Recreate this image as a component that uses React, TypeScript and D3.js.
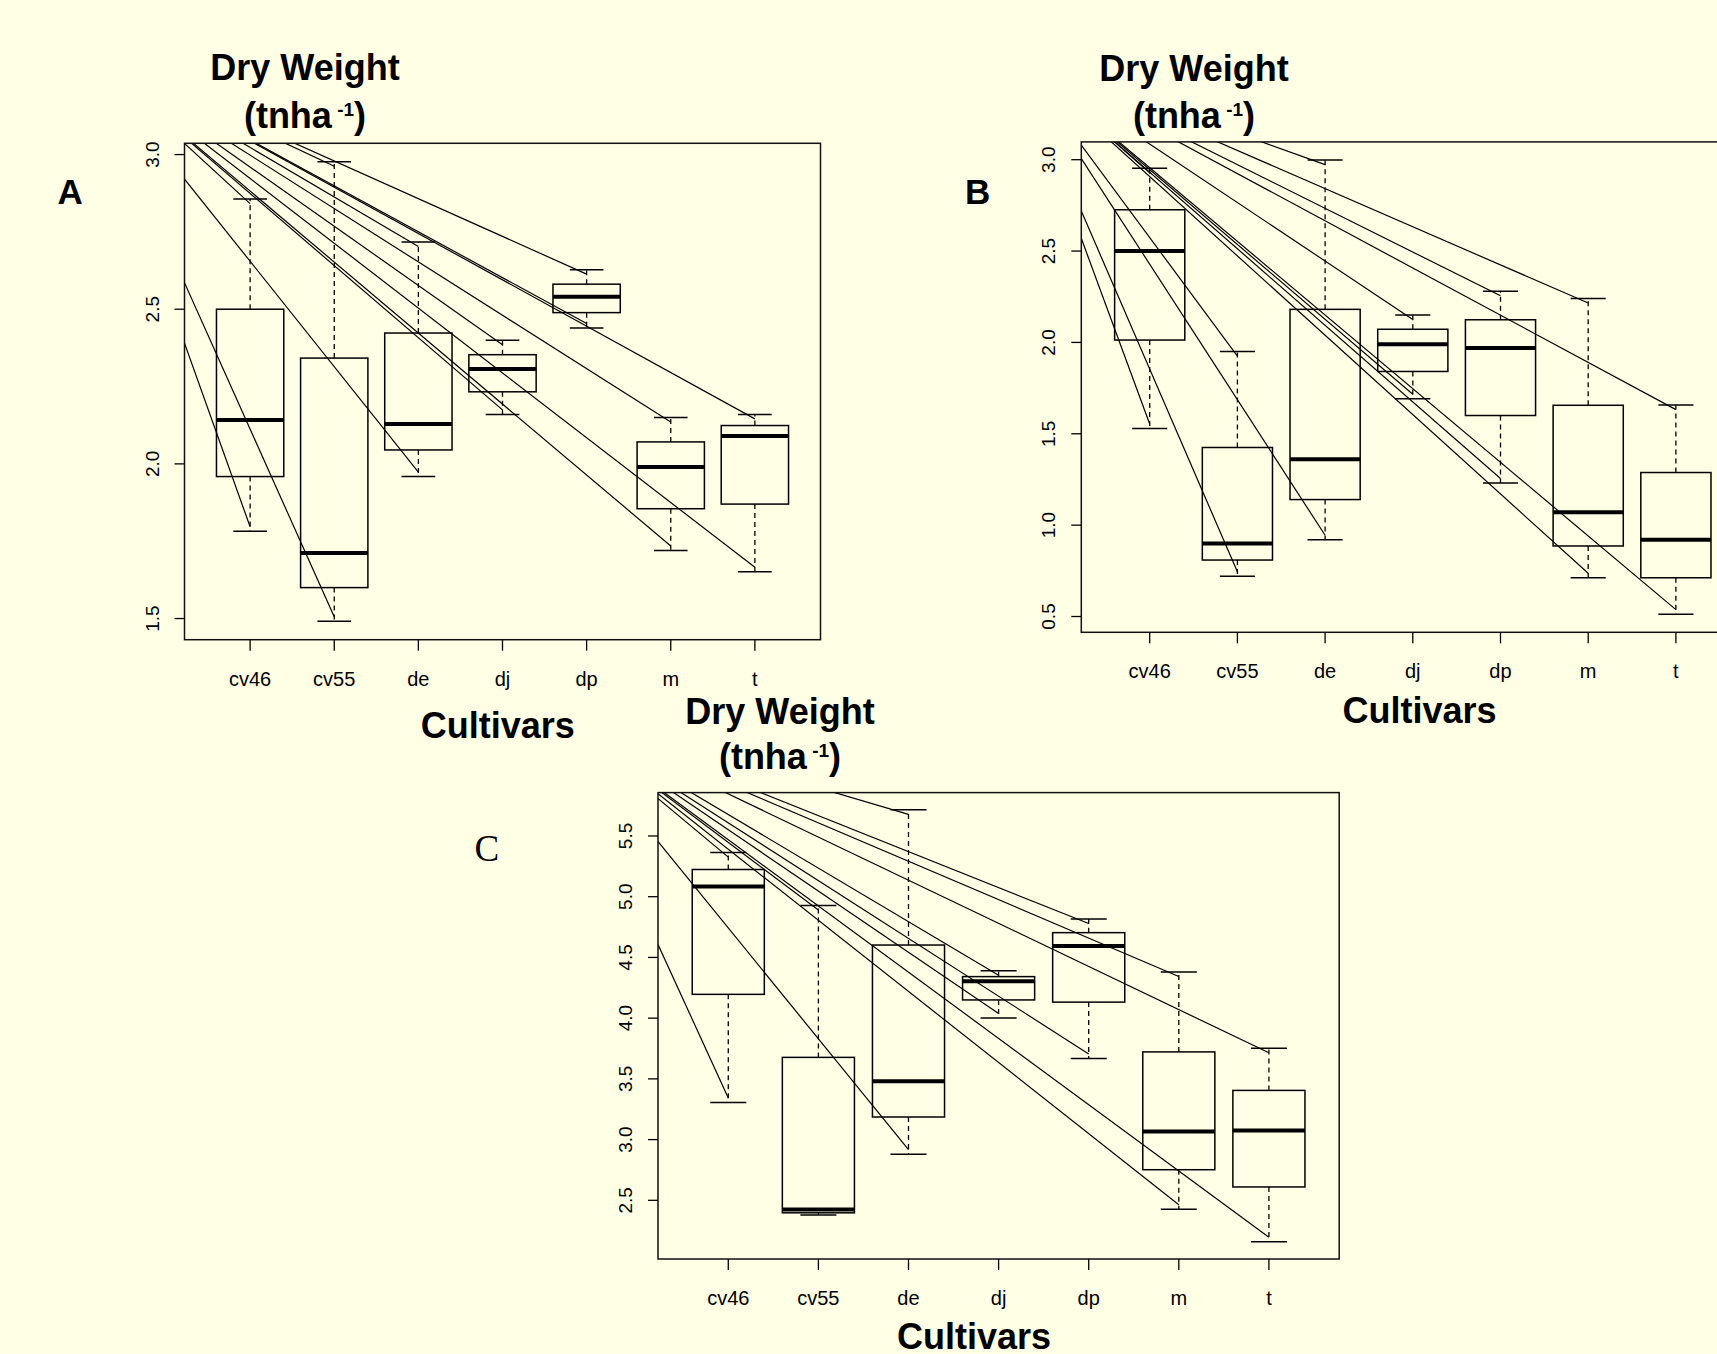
import React from "react";
import * as d3 from "d3";

// ---------- data ----------
const categories = ["cv46", "cv55", "de", "dj", "dp", "m", "t"];

// each row: [lower whisker, Q1, median, Q3, upper whisker]
const statsA = [
  [1.782, 1.959, 2.142, 2.5, 2.856],
  [1.491, 1.6, 1.712, 2.342, 2.977],
  [1.959, 2.045, 2.129, 2.423, 2.717],
  [2.16, 2.233, 2.307, 2.353, 2.4],
  [2.439, 2.489, 2.54, 2.581, 2.628],
  [1.72, 1.855, 1.99, 2.071, 2.15],
  [1.651, 1.87, 2.09, 2.124, 2.16],
];
const statsB = [
  [1.529, 2.013, 2.501, 2.726, 2.953],
  [0.72, 0.809, 0.9, 1.425, 1.95],
  [0.92, 1.14, 1.361, 2.181, 2.998],
  [1.692, 1.841, 1.99, 2.072, 2.15],
  [1.231, 1.6, 1.97, 2.124, 2.28],
  [0.712, 0.886, 1.071, 1.656, 2.24],
  [0.513, 0.712, 0.92, 1.288, 1.657],
];
const statsC = [
  [3.306, 4.196, 5.085, 5.224, 5.363],
  [2.379, 2.397, 2.425, 3.677, 4.927],
  [2.88, 3.186, 3.481, 4.602, 5.715],
  [4.001, 4.15, 4.304, 4.342, 4.39],
  [3.668, 4.132, 4.595, 4.704, 4.816],
  [2.427, 2.752, 3.066, 3.722, 4.38],
  [2.159, 2.61, 3.075, 3.405, 3.752],
];

const yTicksA = [1.5, 2.0, 2.5, 3.0];
const yTicksB = [0.5, 1.0, 1.5, 2.0, 2.5, 3.0];
const yTicksC = [2.5, 3.0, 3.5, 4.0, 4.5, 5.0, 5.5];

// common point (x in category units, y in data units) the straight lines radiate from
const rayOriginA = [-1.04, 3.35];
const rayOriginB = [-0.56, 3.585];
const rayOriginC = [-0.98, 6.55];

// which whisker ends receive a line: [upper, lower] per category
const rayEndsA = [[1, 1], [1, 1], [1, 1], [1, 1], [1, 1], [1, 1], [1, 1]];
const rayEndsB = [[1, 1], [1, 1], [1, 1], [1, 1], [1, 1], [1, 1], [1, 1]];
const rayEndsC = [[1, 1], [1, 0], [1, 1], [1, 1], [1, 1], [1, 1], [1, 1]];

const panelLabels = ["A", "B", "C"];
const titleLine1 = "Dry Weight";
const titleLine2 = "(tnha";
const titleSup = " -1";
const xAxisTitle = "Cultivars";

// ---------- layout ----------
const W = 1717;
const H = 1354;
const BG = "#FFFFE5";
const SANS = "'Liberation Sans', Arial, Helvetica, sans-serif";
const SERIF = "'Liberation Serif', 'Times New Roman', serif";

const layouts = [
  {
    stats: statsA, ticks: yTicksA, origin: rayOriginA, ends: rayEndsA,
    left: 184.5, right: 820.5, top: 143.3, bottom: 639.7,
    titleX: 305, t1: 80, t2: 128, xTitleX: 497.7, xTitleY: 738,
    label: panelLabels[0], labelX: 57.6, labelY: 204.3, labelFont: SANS, labelWeight: 700, labelSize: 35,
  },
  {
    stats: statsB, ticks: yTicksB, origin: rayOriginB, ends: rayEndsB,
    left: 1081.3, right: 1744.3, top: 141.9, bottom: 632.3,
    titleX: 1194, t1: 81, t2: 128, xTitleX: 1419.6, xTitleY: 723,
    label: panelLabels[1], labelX: 965, labelY: 204.3, labelFont: SANS, labelWeight: 700, labelSize: 35,
  },
  {
    stats: statsC, ticks: yTicksC, origin: rayOriginC, ends: rayEndsC,
    left: 658, right: 1339.2, top: 792.6, bottom: 1259,
    titleX: 780, t1: 724, t2: 769, xTitleX: 974, xTitleY: 1349,
    label: panelLabels[2], labelX: 474.6, labelY: 861.4, labelFont: SERIF, labelWeight: 400, labelSize: 37,
  },
];

function Panel({ cfg, idx }: { cfg: any; idx: number }) {
  const n = categories.length;
  const xPad = 0.04 * n;
  const x = d3.scaleLinear().domain([0.5 - xPad, n + 0.5 + xPad]).range([cfg.left, cfg.right]);
  const allVals = cfg.stats.flat();
  const [lo, hi] = d3.extent(allVals) as [number, number];
  const yPad = 0.04 * (hi - lo);
  const y = d3.scaleLinear().domain([lo - yPad, hi + yPad]).range([cfg.bottom, cfg.top]);
  const unit = x(2) - x(1);
  const boxHalf = 0.4 * unit;
  const capHalf = 0.2 * unit;
  const clipId = `clip-${idx}`;
  const ox = x(cfg.origin[0]);
  const oy = y(cfg.origin[1]);
  const gap = 4.5;

  return (
    <g>
      <defs>
        <clipPath id={clipId}>
          <rect x={cfg.left} y={cfg.top} width={cfg.right - cfg.left} height={cfg.bottom - cfg.top} />
        </clipPath>
      </defs>

      {/* radiating lines */}
      <g clipPath={`url(#${clipId})`} stroke="#000" strokeWidth={1.2} fill="none">
        {cfg.stats.map((s: number[], i: number) => {
          const cx = x(i + 1);
          const [up, low] = cfg.ends[i];
          return (
            <g key={i}>
              {up ? <line x1={ox} y1={oy} x2={cx} y2={y(s[4]) + gap} /> : null}
              {low ? <line x1={ox} y1={oy} x2={cx} y2={y(s[0]) - gap} /> : null}
            </g>
          );
        })}
      </g>

      {/* boxplots */}
      {cfg.stats.map((s: number[], i: number) => {
        const cx = x(i + 1);
        return (
          <g key={i} stroke="#000" fill="none">
            <line x1={cx} x2={cx} y1={y(s[3])} y2={y(s[4])} strokeWidth={1.3} strokeDasharray="5,4" />
            <line x1={cx} x2={cx} y1={y(s[1])} y2={y(s[0])} strokeWidth={1.3} strokeDasharray="5,4" />
            <line x1={cx - capHalf} x2={cx + capHalf} y1={y(s[4])} y2={y(s[4])} strokeWidth={1.5} />
            <line x1={cx - capHalf} x2={cx + capHalf} y1={y(s[0])} y2={y(s[0])} strokeWidth={1.5} />
            <rect x={cx - boxHalf} width={2 * boxHalf} y={y(s[3])} height={y(s[1]) - y(s[3])} strokeWidth={1.5} />
            <line x1={cx - boxHalf} x2={cx + boxHalf} y1={y(s[2])} y2={y(s[2])} strokeWidth={4} />
          </g>
        );
      })}

      {/* frame */}
      <rect x={cfg.left} y={cfg.top} width={cfg.right - cfg.left} height={cfg.bottom - cfg.top}
        fill="none" stroke="#111" strokeWidth={1.5} />

      {/* x axis */}
      {categories.map((c, i) => (
        <g key={c}>
          <line x1={x(i + 1)} x2={x(i + 1)} y1={cfg.bottom} y2={cfg.bottom + 11} stroke="#000" strokeWidth={1.3} />
          <text x={x(i + 1)} y={cfg.bottom + 46} textAnchor="middle" fontFamily={SANS} fontSize={20} fill="#000">{c}</text>
        </g>
      ))}

      {/* y axis */}
      {cfg.ticks.map((t: number) => (
        <g key={t}>
          <line x1={cfg.left - 10} x2={cfg.left} y1={y(t)} y2={y(t)} stroke="#000" strokeWidth={1.3} />
          <text transform={`translate(${cfg.left - 26},${y(t)}) rotate(-90)`} textAnchor="middle"
            fontFamily={SANS} fontSize={19} fill="#000">{t.toFixed(1)}</text>
        </g>
      ))}

      {/* titles */}
      <text x={cfg.titleX} y={cfg.t1} textAnchor="middle" fontFamily={SANS} fontWeight={700} fontSize={36} fill="#000">{titleLine1}</text>
      <text x={cfg.titleX} y={cfg.t2} textAnchor="middle" fontFamily={SANS} fontWeight={700} fontSize={36} fill="#000" style={{ whiteSpace: "pre" }}>
        {titleLine2}
        <tspan fontSize={19} dy={-11.6}>{titleSup}</tspan>
        <tspan dy={11.6}>)</tspan>
      </text>
      <text x={cfg.xTitleX} y={cfg.xTitleY} textAnchor="middle" fontFamily={SANS} fontWeight={700} fontSize={36} fill="#000">{xAxisTitle}</text>
      <text x={cfg.labelX} y={cfg.labelY} fontFamily={cfg.labelFont} fontWeight={cfg.labelWeight} fontSize={cfg.labelSize} fill="#000">{cfg.label}</text>
    </g>
  );
}

export default function App() {
  return (
    <svg width={W} height={H} viewBox={`0 0 ${W} ${H}`}
      style={{ position: "absolute", left: 0, top: 0, display: "block" }}>
      <rect x={0} y={0} width={W} height={H} fill={BG} />
      {layouts.map((cfg, i) => (
        <Panel key={i} cfg={cfg} idx={i} />
      ))}
    </svg>
  );
}
